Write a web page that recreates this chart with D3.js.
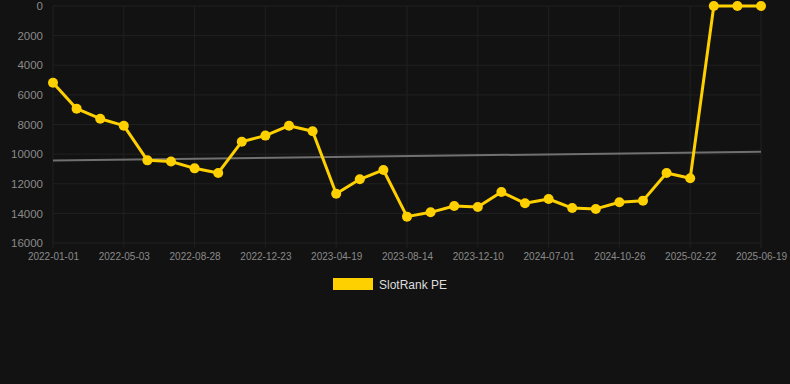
<!DOCTYPE html>
<html>
<head>
<meta charset="utf-8">
<script src="https://cdn.jsdelivr.net/npm/d3@7"></script>
<style>
  html, body { margin: 0; padding: 0; background: #121212; }
  #chart { width: 790px; height: 384px; }
  text { font-family: "Liberation Sans", Arial, sans-serif; }
</style>
</head>
<body>
<div id="chart"></div>
<script>
const DATES = [
  "2022-01-01", "2022-02-11", "2022-03-23", "2022-05-03", "2022-06-12", "2022-07-21",
  "2022-08-28", "2022-10-05", "2022-11-14", "2022-12-23", "2023-01-31", "2023-03-11",
  "2023-04-19", "2023-05-28", "2023-07-06", "2023-08-14", "2023-09-22", "2023-10-31",
  "2023-12-10", "2024-02-19", "2024-04-30", "2024-07-01", "2024-08-09", "2024-09-17",
  "2024-10-26", "2024-12-04", "2025-01-13", "2025-02-22", "2025-04-02", "2025-05-11",
  "2025-06-19",
];
const RANKS = [
  5180, 6930, 7610, 8080, 10420, 10500, 10960, 11270, 9160, 8750, 8080, 8460,
  12670, 11700, 11070, 14220, 13930, 13500, 13570, 12560, 13320, 13030, 13640, 13700,
  13250, 13140, 11270, 11630, 0, 0, 0,
];
const TREND = [10430, 9840];
const Y_TICKS = [0, 2000, 4000, 6000, 8000, 10000, 12000, 14000, 16000];
const SERIES_NAME = "SlotRank PE";

const width = 790;
const height = 384;
const margin = { top: 6, right: 29, bottom: 141, left: 53 };
const innerW = width - margin.left - margin.right;
const innerH = height - margin.top - margin.bottom;

const svg = d3.select("#chart").append("svg")
  .attr("width", width)
  .attr("height", height);

svg.append("rect").attr("width", width).attr("height", height).attr("fill", "#121212");

const g = svg.append("g").attr("transform", `translate(${margin.left},${margin.top})`);

const x = d3.scalePoint().domain(DATES).range([0, innerW]);
const y = d3.scaleLinear().domain([0, 16000]).range([0, innerH]);

const labelDates = DATES.filter((d, i) => i % 3 === 0);

// grid
g.append("g")
  .selectAll("line")
  .data(Y_TICKS)
  .join("line")
  .attr("x1", 0)
  .attr("x2", innerW)
  .attr("y1", (d) => y(d))
  .attr("y2", (d) => y(d))
  .attr("stroke", "#202020")
  .attr("stroke-width", 1);

g.append("g")
  .selectAll("line")
  .data(labelDates)
  .join("line")
  .attr("x1", (d) => x(d))
  .attr("x2", (d) => x(d))
  .attr("y1", 0)
  .attr("y2", innerH + 5)
  .attr("stroke", "#202020")
  .attr("stroke-width", 1);

// axes
const yAxis = g.append("g")
  .call(d3.axisLeft(y).tickValues(Y_TICKS).tickSize(0).tickPadding(10).tickFormat((d) => `${d}`));
yAxis.select(".domain").remove();
yAxis.selectAll("text").attr("fill", "#8a8a8a").style("font-size", "11.5px");

const xAxis = g.append("g")
  .attr("transform", `translate(0,${innerH})`)
  .call(d3.axisBottom(x).tickValues(labelDates).tickSize(0).tickPadding(10));
xAxis.select(".domain").remove();
xAxis.selectAll("text").attr("fill", "#8a8a8a").style("font-size", "10px");

// trend line
g.append("line")
  .attr("x1", x(DATES[0]))
  .attr("x2", x(DATES[DATES.length - 1]))
  .attr("y1", y(TREND[0]))
  .attr("y2", y(TREND[1]))
  .attr("stroke", "#707070")
  .attr("stroke-width", 2);

// series
const line = d3.line().x((d, i) => x(DATES[i])).y((d) => y(d));

g.append("path")
  .datum(RANKS)
  .attr("d", line)
  .attr("fill", "none")
  .attr("stroke", "#ffd000")
  .attr("stroke-width", 3)
  .attr("stroke-linejoin", "round");

g.append("g")
  .selectAll("circle")
  .data(RANKS)
  .join("circle")
  .attr("cx", (d, i) => x(DATES[i]))
  .attr("cy", (d) => y(d))
  .attr("r", 5)
  .attr("fill", "#ffd000");

// legend
const legend = svg.append("g").attr("transform", "translate(333,278)");
legend.append("rect").attr("width", 40).attr("height", 12).attr("fill", "#ffd000");
legend.append("text")
  .attr("x", 46)
  .attr("y", 10.5)
  .attr("fill", "#dddddd")
  .style("font-size", "12px")
  .text(SERIES_NAME);
</script>
</body>
</html>
